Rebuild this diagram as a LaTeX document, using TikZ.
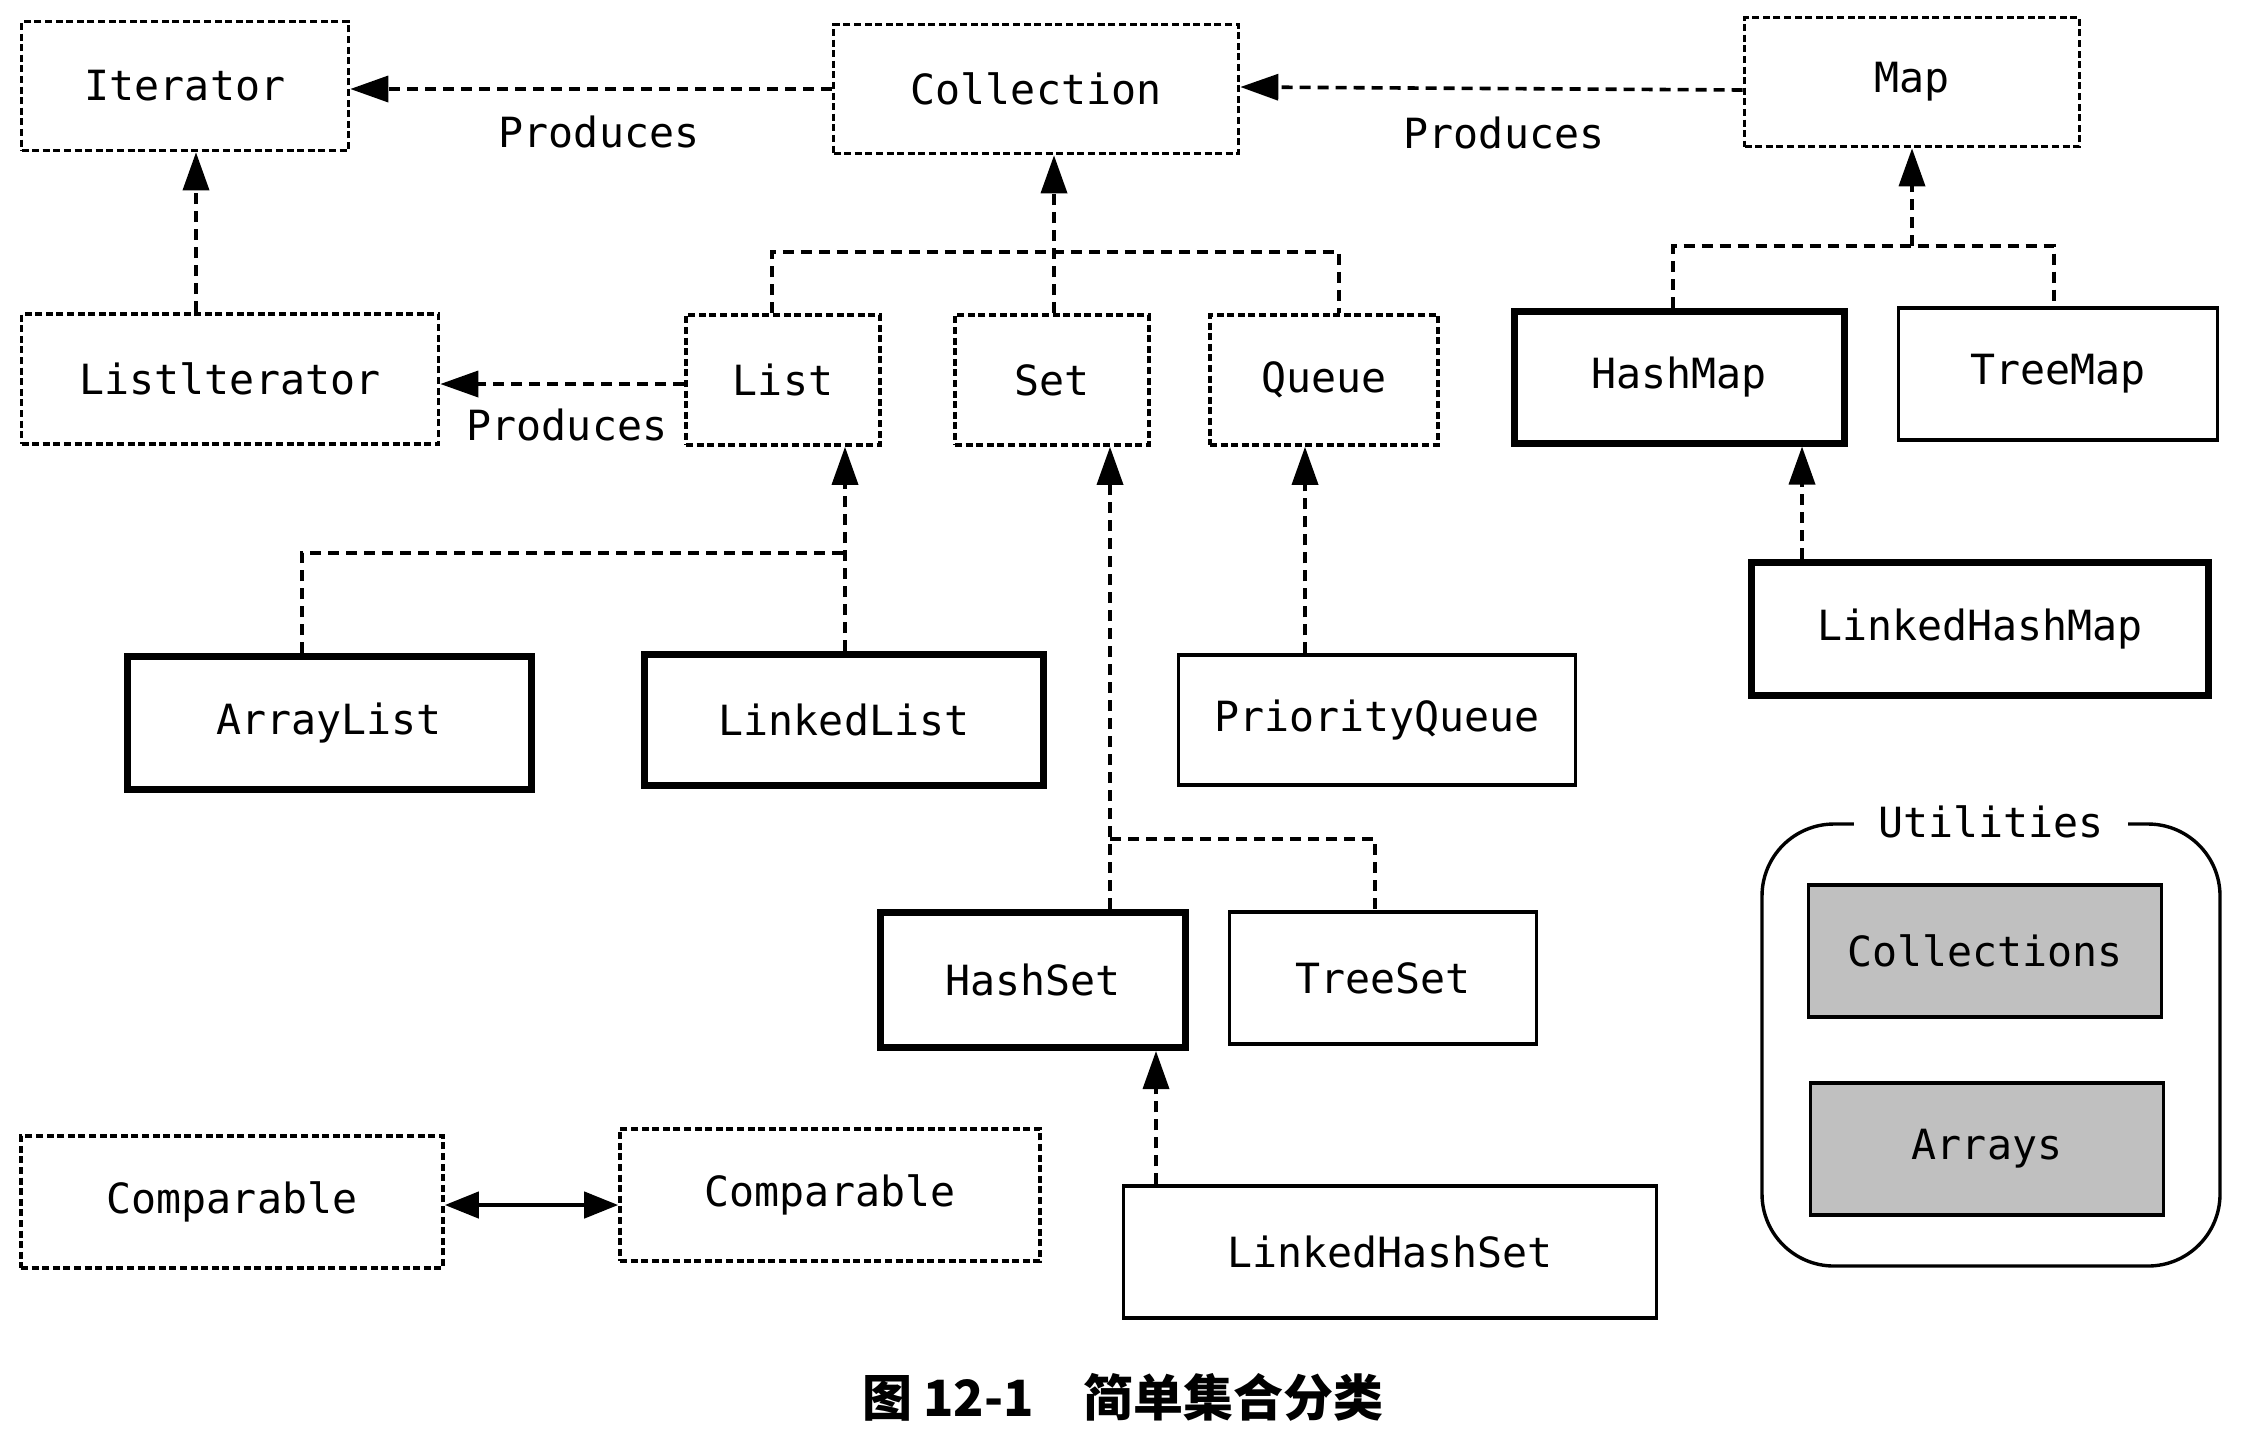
\documentclass[tikz,border=0pt]{standalone}
\usepackage{fontspec}
\setmonofont{DejaVu Sans Mono}
\newfontfamily\cjk{Noto Sans CJK SC}
\usetikzlibrary{arrows.meta}
\definecolor{utilgray}{RGB}{192,192,192}
\begin{document}
\begin{tikzpicture}[x=0.5pt,y=-0.5pt,
  sz/.style 2 args={minimum width=#1*0.5pt, minimum height=#2*0.5pt},
  box/.style={rectangle, inner sep=0pt, font=\ttfamily\fontsize{20.8}{25}\selectfont, text=black},
  iface/.style={box, draw, line width=1.8pt, dash pattern=on 3.5pt off 1.8pt},
  impl/.style={box, draw, line width=1.7pt},
  mainimpl/.style={box, draw, line width=3.5pt},
  utilbox/.style={box, draw, line width=1.7pt, fill=utilgray},
  conn/.style={line width=1.8pt, dash pattern=on 5.5pt off 3.5pt},
  tip/.style={-{Triangle[length=19pt,width=13pt]}},
  lbl/.style={font=\ttfamily\fontsize{20.8}{25}\selectfont, inner sep=0pt}
]
\useasboundingbox[fill=white] (0,0) rectangle (2246,1442);

% interfaces
\node[iface, sz={327}{129}] (Iterator) at (185,86) {Iterator};
\node[iface, sz={405}{129}] (Collection) at (1036,89) {Collection};
\node[iface, sz={335}{129}] (Map) at (1912,82) {Map};
\node[iface, sz={417}{130}] (ListIterator) at (230,379) {Listlterator};
\node[iface, sz={194}{130}] (List) at (783,380) {List};
\node[iface, sz={194}{130}] (Set) at (1052,380) {Set};
\node[iface, sz={228}{130}] (Queue) at (1324,380) {Queue};
\node[iface, sz={422}{132}] (CompL) at (232,1202) {Comparable};
\node[iface, sz={420}{132}] (CompR) at (830,1195) {Comparable};

% implementations
\node[mainimpl, sz={330}{132}] (HashMap) at (1679,377) {HashMap};
\node[impl, sz={319}{132}] (TreeMap) at (2058,374) {TreeMap};
\node[mainimpl, sz={457}{133}] (LinkedHashMap) at (1980,629) {LinkedHashMap};
\node[mainimpl, sz={404}{133}] (ArrayList) at (329,723) {ArrayList};
\node[mainimpl, sz={399}{131}] (LinkedList) at (844,720) {LinkedList};
\node[impl, sz={397}{130}] (PriorityQueue) at (1377,720) {PriorityQueue};
\node[mainimpl, sz={305}{135}] (HashSet) at (1033,980) {HashSet};
\node[impl, sz={307}{132}] (TreeSet) at (1383,978) {TreeSet};
\node[impl, sz={533}{132}] (LinkedHashSet) at (1390,1252) {LinkedHashSet};

% utilities
\node[draw, line width=1.7pt, rounded corners=36pt, rectangle, inner sep=0pt, sz={458}{442}] (Utilities) at (1991,1045) {};
\node[lbl, fill=white, inner xsep=12pt, inner ysep=2pt] (UtilLabel) at (Utilities.north) {Utilities};
\node[utilbox, sz={353}{132}] (Collections) at (1985,951) {Collections};
\node[utilbox, sz={353}{132}] (Arrays) at (1987,1149) {Arrays};

% Produces connectors
\draw[conn, tip] (Collection.west) -- (Collection.west -| Iterator.east);
\node[lbl] (P1) at (599,132) {Produces};
\draw[conn, tip] ([yshift=-4pt]Map.west) -- ([yshift=-2.5pt]Map.west -| Collection.east);
\node[lbl] (P2) at (1504,133) {Produces};
\draw[conn, tip] ([yshift=-2pt]List.west) -- ([yshift=-2pt]List.west -| ListIterator.east);
\node[lbl] (P3) at (567,425) {Produces};

% ListIterator -> Iterator
\draw[conn, tip] ([xshift=5.5pt]ListIterator.north -| Iterator.south) -- ([xshift=5.5pt]Iterator.south);

% List/Set/Queue -> Collection
\coordinate (cbar) at (1054,252);
\draw[conn] ([xshift=-5.5pt]List.north) |- (cbar) -| ([xshift=7.5pt]Queue.north);
\draw[conn, tip] (Set.north -| cbar) -- (Collection.south -| cbar);

% HashMap/TreeMap -> Map
\coordinate (mbar) at (1912,246);
\draw[conn] ([xshift=-3pt]HashMap.north) |- (mbar) -| ([xshift=-2pt]TreeMap.north);
\draw[conn, tip] (mbar) -- (Map.south);

% LinkedHashMap -> HashMap
\draw[conn, tip] (LinkedHashMap.north -| 1802,0) -- (HashMap.south -| 1802,0);

% ArrayList/LinkedList -> List
\coordinate (lbar) at (845,553);
\draw[conn] ([xshift=-13.5pt]ArrayList.north) |- (lbar);
\draw[conn, tip] (LinkedList.north -| lbar) -- (List.south -| lbar);

% PriorityQueue -> Queue
\draw[conn, tip] (PriorityQueue.north -| 1305,0) -- (Queue.south -| 1305,0);

% HashSet/TreeSet -> Set
\coordinate (sbar) at (1110,839);
\draw[conn] (sbar) -| (TreeSet.north -| 1375,0);
\draw[conn, tip] (HashSet.north -| sbar) -- (Set.south -| sbar);

% LinkedHashSet -> HashSet
\draw[conn, tip] (LinkedHashSet.north -| 1156,0) -- (HashSet.south -| 1156,0);

% Comparable <-> Comparable
\draw[line width=2.2pt, {Triangle[length=17pt,width=13pt]}-{Triangle[length=17pt,width=13pt]}] ([yshift=-1.5pt]CompL.east) -- ([yshift=-1.5pt]CompL.east -| CompR.west);

% caption
\node[inner sep=0pt, font=\cjk\bfseries\fontsize{25}{30}\selectfont] (Caption) at (1123,1397) {图 12-1\quad 简单集合分类};
\end{tikzpicture}
\end{document}
